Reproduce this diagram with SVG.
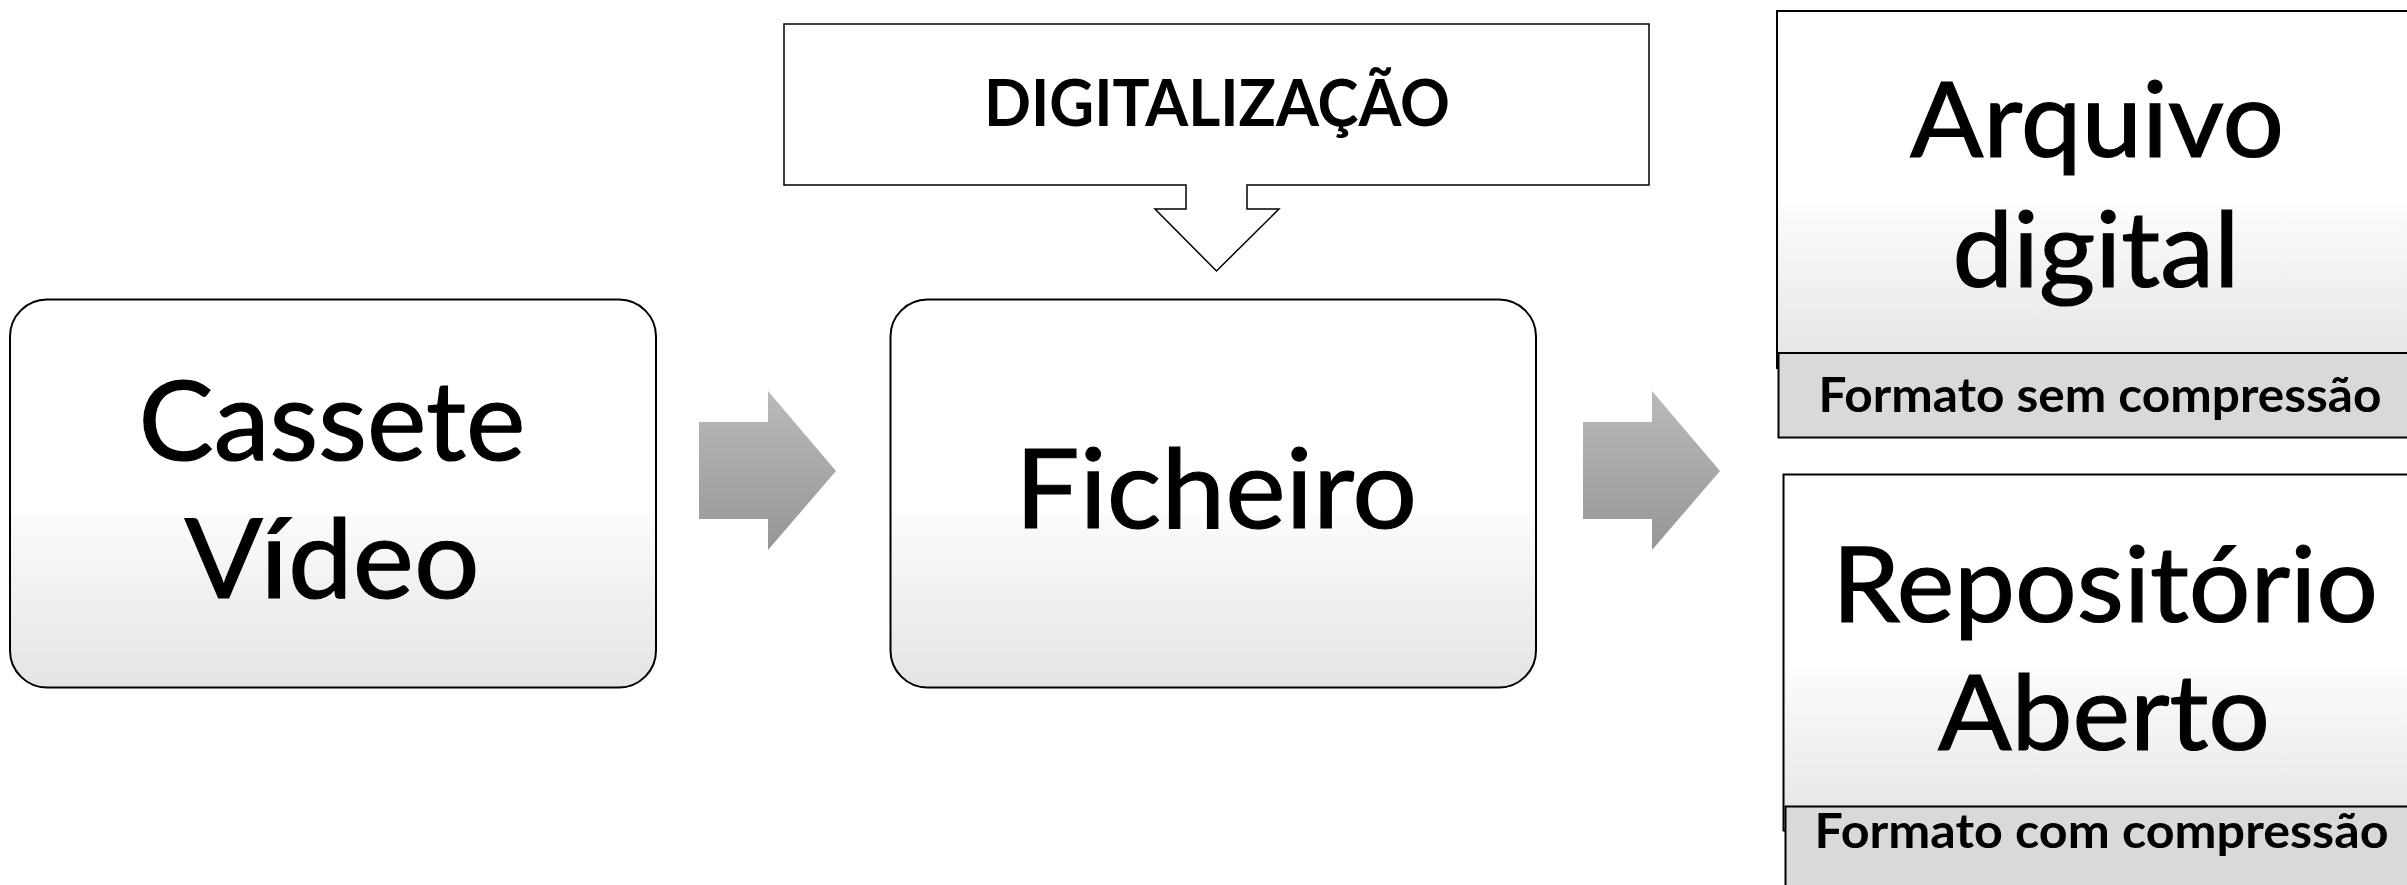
<svg xmlns="http://www.w3.org/2000/svg" width="2407" height="885" viewBox="0 0 2407 885">
<defs>
<linearGradient id="boxGrad" x1="0" y1="0" x2="0" y2="1">
<stop offset="0" stop-color="#ffffff"/>
<stop offset="0.54" stop-color="#ffffff"/>
<stop offset="0.56" stop-color="#fbfbfb"/>
<stop offset="1" stop-color="#e4e4e4"/>
</linearGradient>
<linearGradient id="arrowGrad" x1="0" y1="0" x2="0" y2="1">
<stop offset="0" stop-color="#bababa"/>
<stop offset="1" stop-color="#969696"/>
</linearGradient>
<style>
.box{fill:url(#boxGrad);stroke:#000;stroke-width:2}
.band{fill:#d9d9d9;stroke:#000;stroke-width:2}
.big{font-family:Lato,"Open Sans","Liberation Sans",sans-serif;font-size:110px;fill:#000;stroke:#000;stroke-width:1.2;text-anchor:middle}
.mid{font-family:Lato,"Open Sans","Liberation Sans",sans-serif;font-size:104px;fill:#000;stroke:#000;stroke-width:1.2;text-anchor:middle}
.sub{font-family:Lato,"Open Sans","Liberation Sans",sans-serif;font-size:47px;font-weight:bold;fill:#000;text-anchor:middle}
.head{font-family:Lato,"Open Sans","Liberation Sans",sans-serif;font-size:65px;font-weight:bold;fill:#000;text-anchor:middle}
.callout{fill:#fff;stroke:#000;stroke-width:1.5}
.arrow{fill:url(#arrowGrad)}
</style>
</defs>
<rect width="2407" height="885" fill="#fff"/>
<g id="connectors">
<path class="arrow" d="M699,422 H768 V391 L836,471 L768,550 V519 H699 Z"/>
<path class="arrow" d="M1583,422 H1652 V391 L1720,471 L1652,550 V519 H1583 Z"/>
</g>
<g id="cassete">
<rect class="box" x="10" y="299.5" width="646" height="388" rx="37" ry="37"/>
<text class="big" x="332" y="460" textLength="387" lengthAdjust="spacingAndGlyphs">Cassete</text>
<text class="big" x="332" y="598" textLength="295" lengthAdjust="spacingAndGlyphs">Vídeo</text>
</g>
<g id="digitalizacao">
<path class="callout" d="M784,24 H1649 V185 H1247 V209 H1279 L1216.5,271 L1155,209 H1186 V185 H784 Z"/>
<text class="head" x="1217" y="126" textLength="466" lengthAdjust="spacingAndGlyphs">DIGITALIZAÇÃO</text>
</g>
<g id="ficheiro">
<rect class="box" x="890.5" y="299.5" width="645.5" height="388" rx="37" ry="37"/>
<text class="big" x="1216" y="528" textLength="402" lengthAdjust="spacingAndGlyphs">Ficheiro</text>
</g>
<g id="arquivo">
<rect class="box" x="1777" y="11" width="700" height="357"/>
<rect class="band" x="1778.5" y="353" width="700" height="84.5"/>
<text class="mid" x="2097" y="157" textLength="374" lengthAdjust="spacingAndGlyphs">Arquivo</text>
<text class="mid" x="2096" y="287" textLength="287" lengthAdjust="spacingAndGlyphs">digital</text>
<text class="sub" x="2100" y="412" textLength="563" lengthAdjust="spacingAndGlyphs">Formato sem compressão</text>
</g>
<g id="repositorio">
<rect class="box" x="1783.5" y="474.5" width="700" height="356"/>
<rect class="band" x="1785.5" y="806.5" width="700" height="100"/>
<text class="mid" x="2105" y="622" textLength="546" lengthAdjust="spacingAndGlyphs">Repositório</text>
<text class="mid" x="2104" y="750" textLength="332" lengthAdjust="spacingAndGlyphs">Aberto</text>
<text class="sub" x="2101.5" y="848" textLength="574" lengthAdjust="spacingAndGlyphs">Formato com compressão</text>
</g>
</svg>
